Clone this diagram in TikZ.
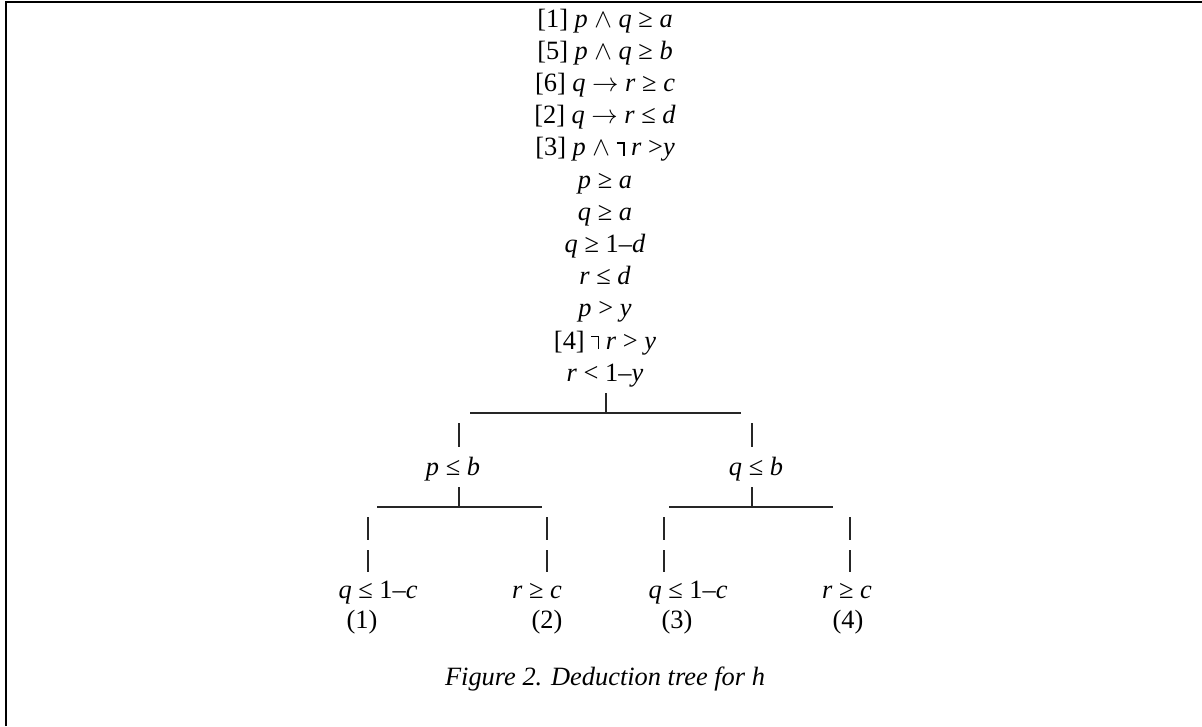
\documentclass[tikz,border=0pt]{standalone}
\usepackage{fix-cm}
\usepackage{fontspec}
\setmainfont{Liberation Serif}
\newcommand{\lnegmark}{\mbox{\rule[0.44em]{0.30em}{0.065em}\kern-0.065em\rule{0.065em}{0.505em}}}
\newcommand{\wdg}{$\wedge$}
\newcommand{\arr}{$\rightarrow$}
\tikzset{
  txt/.style={anchor=base, inner sep=0pt, font=\fontsize{26.4}{31.7}\selectfont},
  br/.style={line width=1.2pt, draw=black!85},
  frame/.style={line width=2.2pt, draw=black}
}
\begin{document}
\begin{tikzpicture}[x=1pt,y=-1pt]
\useasboundingbox (0,0) rectangle (1202,726);
\draw[frame] (6,726) -- (6,2) -- (1202,2);
% stacked derivation lines
\node[txt] (s0)  at (605,27.0)  {[1] \textit{p} \wdg{} \textit{q} ≥ \textit{a}};
\node[txt] (s1)  at (605,59.2)  {[5] \textit{p} \wdg{} \textit{q} ≥ \textit{b}};
\node[txt] (s2)  at (605,91.4)  {[6] \textit{q} \arr{} \textit{r} ≥ \textit{c}};
\node[txt] (s3)  at (605,123.6) {[2] \textit{q} \arr{} \textit{r} ≤ \textit{d}};
\node[txt] (s4)  at (605,155.8) {[3] \textit{p} \wdg{} \lnegmark{} \textit{r} >\textit{y}};
\node[txt] (s5)  at (605,188.0) {\textit{p} ≥ \textit{a}};
\node[txt] (s6)  at (605,220.2) {\textit{q} ≥ \textit{a}};
\node[txt] (s7)  at (605,252.4) {\textit{q} ≥ 1–\textit{d}};
\node[txt] (s8)  at (605,284.6) {\textit{r} ≤ \textit{d}};
\node[txt] (s9)  at (605,316.8) {\textit{p} > \textit{y}};
\node[txt] (s10) at (605,349.0) {[4] \lnegmark{} \textit{r} > \textit{y}};
\node[txt] (s11) at (605,381.2) {\textit{r} < 1–\textit{y}};
% second level
\node[txt] (pb) at (453,475) {\textit{p} ≤ \textit{b}};
\node[txt] (qb) at (756,475) {\textit{q} ≤ \textit{b}};
% leaves
\node[txt] (l1) at (378,598) {\textit{q} ≤ 1–\textit{c}};
\node[txt] (l2) at (537,598) {\textit{r} ≥ \textit{c}};
\node[txt] (l3) at (688,598) {\textit{q} ≤ 1–\textit{c}};
\node[txt] (l4) at (847,598) {\textit{r} ≥ \textit{c}};
\node[txt] (n1) at (362,628) {(1)};
\node[txt] (n2) at (547,628) {(2)};
\node[txt] (n3) at (677,628) {(3)};
\node[txt] (n4) at (848,628) {(4)};
% caption
\node[txt] (cap) at (605,685) {\textit{Figure 2. Deduction tree for h}};
% first split
\coordinate (r0t) at (606,393); \coordinate (r0b) at (606,413);
\coordinate (h0l) at (470,413); \coordinate (h0r) at (741,413);
\coordinate (p0at) at (459,423); \coordinate (p0ab) at (459,447);
\coordinate (p0bt) at (752,423); \coordinate (p0bb) at (752,447);
\draw[br] (r0t) -- (r0b);
\draw[br] (h0l) -- (h0r);
\draw[br] (p0at) -- (p0ab);
\draw[br] (p0bt) -- (p0bb);
% left split
\coordinate (r1t) at (459,487); \coordinate (r1b) at (459,508);
\coordinate (h1l) at (377,507); \coordinate (h1r) at (542,507);
\draw[br] (r1t) -- (r1b);
\draw[br] (h1l) -- (h1r);
\foreach \x/\n in {368/a,547/b}{
  \coordinate (u1\n t) at (\x,517); \coordinate (u1\n b) at (\x,540);
  \coordinate (v1\n t) at (\x,550); \coordinate (v1\n b) at (\x,572);
  \draw[br] (u1\n t) -- (u1\n b);
  \draw[br] (v1\n t) -- (v1\n b);
}
% right split
\coordinate (r2t) at (752,487); \coordinate (r2b) at (752,508);
\coordinate (h2l) at (669,507); \coordinate (h2r) at (833,507);
\draw[br] (r2t) -- (r2b);
\draw[br] (h2l) -- (h2r);
\foreach \x/\n in {664/a,850/b}{
  \coordinate (u2\n t) at (\x,517); \coordinate (u2\n b) at (\x,540);
  \coordinate (v2\n t) at (\x,550); \coordinate (v2\n b) at (\x,572);
  \draw[br] (u2\n t) -- (u2\n b);
  \draw[br] (v2\n t) -- (v2\n b);
}
\end{tikzpicture}
\end{document}
